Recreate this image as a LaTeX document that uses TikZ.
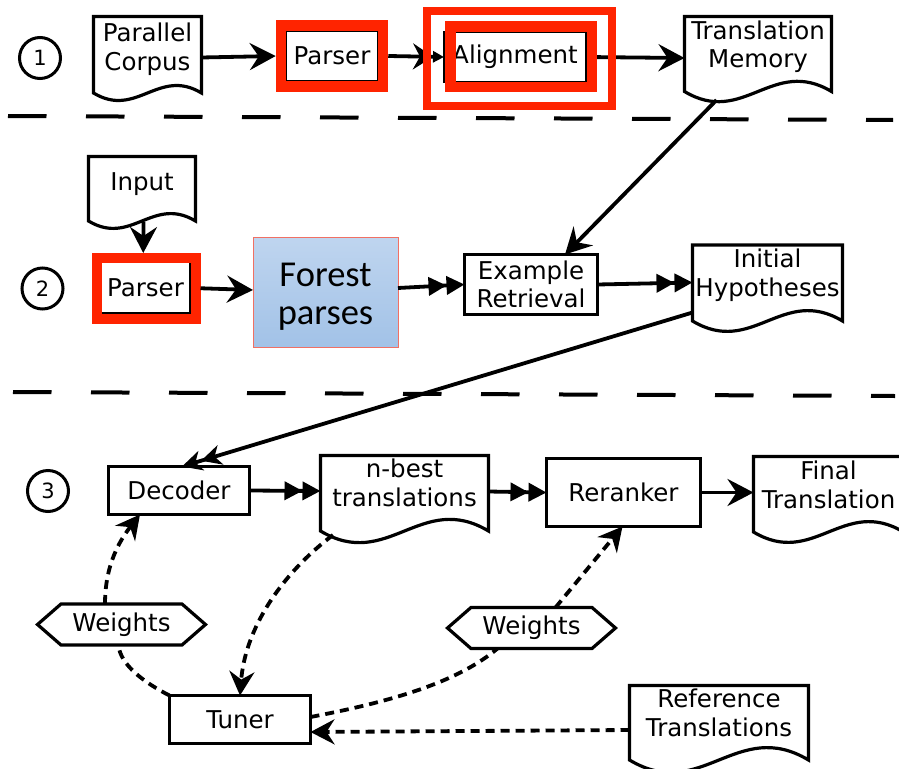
\documentclass[tikz,border=0pt]{standalone}
\usepackage{fontspec}
\setmainfont{DejaVu Sans}
\newfontfamily\carlito{Carlito}
\usetikzlibrary{arrows.meta,calc}
\definecolor{hlred}{RGB}{255,36,0}
\definecolor{fgtop}{RGB}{191,213,239}
\definecolor{fgbot}{RGB}{162,194,231}
\definecolor{fgline}{RGB}{240,112,100}
\newcommand\docborder[4]{%
  \draw[docline] ($(#1.west)+(0,#3)$) -- ($(#1.west)+(0,-#2)$) -- ($(#1.east)+(0,-#2)$) -- ($(#1.east)+(0,#3)$)
    .. controls ($(#1.east)+(-0.4*#4,#3-0.24*#4)$) and ($(#1.west)+(0.4*#4,#3+0.24*#4)$) .. ($(#1.west)+(0,#3)$) -- cycle;}
\newcommand\hexborder[2]{%
  \draw[docline] (#1.west) -- ($(#1.north west)+(#2,0)$) -- ($(#1.north east)+(-#2,0)$) -- (#1.east)
    -- ($(#1.south east)+(-#2,0)$) -- ($(#1.south west)+(#2,0)$) -- cycle;}
\begin{document}
\begin{tikzpicture}[x=1pt,y=-1pt,
 lab/.style={font=\fontsize{24.5}{28.5}\selectfont, align=center, inner sep=0pt, outer sep=0pt},
 box/.style={lab, draw, line width=3.2pt},
 docnode/.style={lab},
 hexnode/.style={lab, minimum width=168pt, minimum height=41pt},
 docline/.style={line width=3.2pt, line join=miter},
 numc/.style={circle, draw, line width=3pt, minimum size=41pt, inner sep=0pt, font=\fontsize{21}{24}\selectfont},
 redframe/.style={draw=hlred, line width=#1, inner sep=0pt},
 conn/.style={line width=3.8pt},
 bigtip/.style={-{Stealth[length=26pt,width=27pt,inset=9pt]}},
 dbltip/.style={-{Triangle[length=18pt,width=18pt]Triangle[length=18pt,width=18pt]}},
 dotconn/.style={line width=3.8pt, dash pattern=on 9pt off 6pt},
 dottip/.style={-{Stealth[length=24pt,width=25pt,inset=8pt]}},
 sepline/.style={line width=4pt, dash pattern=on 38.5pt off 39.5pt},
]
\useasboundingbox (0,0) rectangle (899,768);
\clip (0,0) rectangle (899,768);

% step numbers
\node[numc] (n1) at (40,58) {1};
\node[numc] (n2) at (42.5,288.5) {2};
\node[numc] (n3) at (48,491) {3};

% row 1
\node[docnode, minimum width=108pt] (pc) at (147.5,50.5) {\strut Parallel\\\strut Corpus};
\docborder{pc}{34}{42.5}{108}
\node[box, line width=2pt, minimum width=92pt, minimum height=50pt] (parserA) at (332,56) {Parser};
\node[redframe=10.5pt, minimum width=102pt, minimum height=61pt] (frameA) at (332,56) {};
\node[box, line width=2.5pt, minimum width=142pt, minimum height=50pt] (align) at (515,57) {Alignment};
\node[docnode, minimum width=147pt] (tm) at (758,48) {\strut Translation\\\strut Memory};
\docborder{tm}{31.5}{43.5}{147}

% row 2
\node[docnode, minimum width=107pt] (input) at (142,184.3) {\strut Input};
\docborder{input}{27.8}{36.7}{107}
\node[box, line width=2pt, minimum width=89pt, minimum height=51pt] (parserB) at (145.5,287.5) {Parser};
\node[redframe=10pt, minimum width=98.5pt, minimum height=60.5pt] (frameD) at (146.25,288.25) {};
\node[draw=fgline, line width=1pt, top color=fgtop, bottom color=fgbot, minimum width=145pt, minimum height=110pt,
      inner sep=0pt, outer sep=0pt, align=center, font=\carlito\fontsize{36.5}{38}\selectfont] (forest) at (325.5,292) {\rule{0pt}{32pt}Forest\\parses};
\node[box, minimum width=133pt, minimum height=60pt] (exret) at (531,284.5) {Example\\Retrieval};
\node[docnode, minimum width=150pt] (ih) at (767.5,276.5) {\strut Initial\\\strut Hypotheses};
\docborder{ih}{31.5}{44.5}{150}

% row 3
\node[box, minimum width=141pt, minimum height=48pt] (dec) at (179,490.5) {Decoder};
\node[docnode, minimum width=168pt] (nbest) at (404.5,486.5) {\strut n-best\\\strut translations};
\docborder{nbest}{31}{44.5}{168}
\node[box, minimum width=154pt, minimum height=68pt] (rer) at (623.5,492.5) {Reranker};
\node[docnode, minimum width=150pt] (final) at (828.5,488.5) {\strut Final\\\strut Translation};
\docborder{final}{32}{43.5}{150}
\node[hexnode] (wA) at (121.5,624.5) {Weights};
\hexborder{wA}{23.5}
\node[hexnode] (wB) at (531.5,628) {Weights};
\hexborder{wB}{23.5}
\node[box, minimum width=141pt, minimum height=48pt] (tuner) at (240,719.5) {Tuner};
\node[docnode, minimum width=179pt] (ref) at (719,716.5) {\strut Reference\\\strut Translations};
\docborder{ref}{31}{43.5}{179}

% separators
\draw[sepline] (8,116) -- (893,120);
\draw[sepline] (13,392) -- (895,396);

% solid connectors
\draw[conn,bigtip] ($(pc.east)+(0,7)$) -- (frameA.west);
\draw[conn,-{Stealth[length=20pt,width=26pt,inset=7pt]Triangle[length=11pt,width=11pt]}] (frameA.east) -- (align.west);
\draw[conn,bigtip] (align.east) -- ($(tm.west)+(0,10)$);
\draw[conn,bigtip] ($(tm.west)+(32,52)$) -- ($(exret.north)+(34,0)$);
\draw[conn,bigtip] ($(input.west)+(55,37.5)$) -- ($(frameD.north)+(-3,0)$);
\draw[conn,bigtip] (frameD.east) -- ($(forest.west)+(0,-2)$);
\draw[conn,dbltip] ($(forest.east)+(0,-4)$) -- (exret.west);
\draw[conn,dbltip] (exret.east) -- ($(ih.west)+(0,6)$);
\draw[conn,-{Stealth[length=20pt,width=20pt,inset=6pt]Stealth[length=20pt,width=20pt,inset=6pt]}] ($(ih.west)+(0,36)$) -- ($(dec.north)+(3,0)$);
\draw[conn,dbltip] (dec.east) -- ($(nbest.west)+(0,4.5)$);
\draw[conn,dbltip] ($(nbest.east)+(0,5)$) -- (rer.west);
\draw[conn,bigtip] (rer.east) -- ($(final.west)+(0,4)$);

% dashed connectors
\draw[dotconn,dottip] ($(ref.west)+(0,13.5)$) -- ($(tuner.east)+(0,12.5)$);
\draw[dotconn] ($(tuner.east)+(0,-2.5)$) .. controls ($(tuner.east)+(89.5,-19.5)$) and ($(wB.south)+(-71.5,31.5)$) .. ($(wB.south)+(-34,0)$);
\draw[dotconn,dottip] ($(wB.north)+(24,0)$) -- ($(rer.south)+(-1,0)$);
\draw[dotconn] (tuner.north west) .. controls ($(tuner.north west)+(-24.5,-12.5)$) and ($(wA.south)+(-1.5,20)$) .. ($(wA.south)+(-3,0)$);
\draw[dotconn,dottip] ($(wA.north)+(-16.5,0)$) .. controls ($(wA.north)+(-16.5,-39.5)$) and ($(dec.south)+(-59,25.5)$) .. ($(dec.south)+(-39,0)$);
\draw[dotconn,dottip] ($(nbest.west)+(12.5,48.5)$) .. controls ($(nbest.west)+(-40.5,88.5)$) and ($(tuner.north)+(5,-65.5)$) .. (tuner.north);

% red highlight frames around Alignment (drawn last)
\node[redframe=10.5pt, minimum width=141.5pt, minimum height=60.5pt] (frameB) at (521.25,56.75) {};
\node[redframe=8.5pt, minimum width=185pt, minimum height=95pt] (frameC) at (519.5,58.5) {};
\end{tikzpicture}
\end{document}
